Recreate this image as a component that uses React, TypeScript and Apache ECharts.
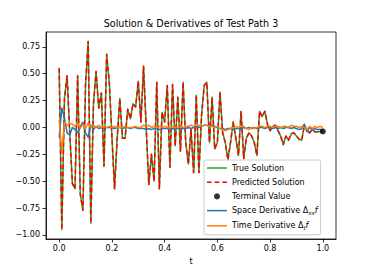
import React, { useEffect, useRef } from 'react';
import * as echarts from 'echarts';

const tValues = [
  0.0, 0.01, 0.02, 0.03, 0.04, 0.05, 0.06, 0.07, 0.08, 0.09,
  0.1, 0.11, 0.12, 0.13, 0.14, 0.15, 0.16, 0.17, 0.18, 0.19,
  0.2, 0.21, 0.22, 0.23, 0.24, 0.25, 0.26, 0.27, 0.28, 0.29,
  0.3, 0.31, 0.32, 0.33, 0.34, 0.35, 0.36, 0.37, 0.38, 0.39,
  0.4, 0.41, 0.42, 0.43, 0.44, 0.45, 0.46, 0.47, 0.48, 0.49,
  0.5, 0.51, 0.52, 0.53, 0.54, 0.55, 0.56, 0.57, 0.58, 0.59,
  0.6, 0.61, 0.62, 0.63, 0.64, 0.65, 0.66, 0.67, 0.68, 0.69,
  0.7, 0.71, 0.72, 0.73, 0.74, 0.75, 0.76, 0.77, 0.78, 0.79,
  0.8, 0.81, 0.82, 0.83, 0.84, 0.85, 0.86, 0.87, 0.88, 0.89,
  0.9, 0.91, 0.92, 0.93, 0.94, 0.95, 0.96, 0.97, 0.98, 0.99,
  1.0,
];

const trueSolution = [
  0.55, -0.95, 0.27, 0.48, -0.05, -0.52, -0.57, 0.48, -0.62, -0.77,
  0.4, 0.8, -0.89, 0.22, 0.52, 0.18, 0.32, -0.36, 0.68, 0.42,
  -0.08, -0.57, -0.1, 0.27, -0.1, -0.1, 0.17, 0.08, 0.22, 0.19,
  0.43, 0.05, 0.57, 0.0, -0.53, -0.25, -0.5, 0.42, -0.57, 0.14,
  0.05, 0.39, -0.37, 0.4, -0.17, 0.28, -0.22, 0.42, -0.14, -0.34,
  -0.02, -0.42, 0.3, -0.42, 0.11, 0.39, 0.42, -0.14, 0.28, -0.2,
  -0.14, 0.33, -0.05, -0.14, -0.3, -0.14, 0.05, -0.1, -0.26, 0.15,
  -0.29, -0.1, -0.05, -0.08, -0.14, -0.26, 0.15, 0.1, 0.15, 0.03,
  -0.03, 0.01, 0.02, -0.03, -0.08, -0.16, -0.08, -0.12, -0.06, -0.05,
  -0.08, -0.11, -0.12, 0.02, -0.03, -0.05, -0.02, -0.04, -0.04, -0.04,
  -0.037,
];

const predictedSolution = [
  0.55, -0.95, 0.27, 0.48, -0.05, -0.52, -0.57, 0.48, -0.62, -0.77,
  0.4, 0.8, -0.89, 0.22, 0.52, 0.18, 0.32, -0.36, 0.68, 0.42,
  -0.08, -0.57, -0.1, 0.27, -0.1, -0.1, 0.17, 0.08, 0.22, 0.19,
  0.43, 0.05, 0.57, 0.0, -0.53, -0.25, -0.5, 0.42, -0.57, 0.14,
  0.05, 0.39, -0.37, 0.4, -0.17, 0.28, -0.22, 0.42, -0.14, -0.34,
  -0.02, -0.42, 0.3, -0.42, 0.11, 0.39, 0.42, -0.14, 0.28, -0.2,
  -0.14, 0.33, -0.05, -0.14, -0.3, -0.14, 0.05, -0.1, -0.26, 0.15,
  -0.29, -0.1, -0.05, -0.08, -0.14, -0.26, 0.15, 0.1, 0.15, 0.03,
  -0.03, 0.01, 0.02, -0.03, -0.08, -0.16, -0.08, -0.12, -0.06, -0.05,
  -0.08, -0.11, -0.12, 0.02, -0.03, -0.05, -0.02, -0.04, -0.04, -0.04,
  -0.037,
];

const spaceDerivative = [
  -0.09, 0.18, 0.09, -0.05, -0.07, 0.0, -0.02, -0.05, 0.01, 0.05,
  -0.05, -0.09, 0.02, -0.02, 0.01, -0.01, 0.0, -0.01, 0.0, 0.0,
  0.0, -0.01, 0.0, 0.0, -0.01, 0.0, 0.0, -0.01, 0.0, 0.0,
  -0.01, -0.01, -0.01, -0.02, -0.01, -0.02, -0.01, -0.01, -0.02, -0.01,
  -0.01, -0.01, -0.02, -0.01, -0.01, -0.01, -0.01, -0.01, -0.01, 0.0,
  -0.01, 0.0, 0.01, 0.0, 0.01, 0.02, 0.02, 0.01, 0.02, 0.01,
  0.0, -0.01, -0.01, -0.02, -0.01, -0.01, -0.02, -0.01, -0.01, -0.01,
  0.0, -0.01, 0.0, -0.01, 0.0, -0.01, 0.0, 0.0, -0.01, 0.0,
  0.0, -0.01, 0.0, -0.01, 0.0, -0.01, 0.0, 0.0, -0.01, 0.0,
  -0.01, -0.02, -0.01, 0.03, -0.04, 0.0, -0.02, -0.01, -0.02, -0.02,
  -0.02,
];

const timeDerivative = [
  0.07, -0.23, 0.05, 0.02, 0.04, 0.03, 0.01, 0.04, -0.01, 0.03,
  -0.01, 0.04, 0.0, 0.02, 0.0, 0.02, 0.0, 0.01, 0.0, 0.01,
  0.0, 0.01, 0.0, 0.0, 0.0, 0.01, 0.0, 0.0, 0.0, 0.01,
  0.0, 0.0, 0.02, 0.01, 0.02, 0.0, 0.01, 0.0, 0.01, 0.0,
  0.01, 0.0, 0.0, 0.01, 0.0, 0.0, 0.01, 0.0, 0.01, 0.01,
  0.02, 0.01, 0.02, 0.02, 0.01, 0.02, 0.02, 0.01, 0.01, 0.0,
  0.01, -0.01, -0.02, -0.03, -0.02, -0.01, 0.0, 0.01, 0.0, 0.01,
  0.01, -0.01, -0.02, 0.0, -0.01, 0.0, 0.01, 0.01, 0.0, 0.01,
  0.01, 0.0, 0.01, 0.01, 0.0, 0.01, 0.01, 0.0, 0.02, 0.01,
  0.01, 0.0, 0.01, 0.0, -0.02, 0.01, -0.01, 0.01, 0.0, 0.01,
  0.0,
];

const terminalValue = [1.0, -0.037];

const xTicks = [0.0, 0.2, 0.4, 0.6, 0.8, 1.0];
const yTicks = [-1.0, -0.75, -0.5, -0.25, 0.0, 0.25, 0.5, 0.75];

const titleText = 'Solution & Derivatives of Test Path 3';
const FONT = 'DejaVu Sans';

const SOLID_ICON = 'path://M0,0H20V1.5H0Z';
const DASHED_ICON = 'path://M0,0H4.5V1.5H0Z M7.4,0H11.9V1.5H7.4Z M14.8,0H19.3V1.5H14.8Z';

const zip = (ys: number[]) => tValues.map((t, i) => [t, ys[i]]);

export default function App() {
  const ref = useRef<HTMLDivElement>(null);
  useEffect(() => {
    if (!ref.current) return;
    const chart = echarts.init(ref.current, undefined, { renderer: 'svg' });
    const minus = (s: string) => s.replace('-', '\u2212');
    const lineBase = {
      type: 'line' as const,
      symbol: 'none',
      showSymbol: false,
      smooth: false,
      z: 2,
    };
    chart.setOption({
      animation: false,
      backgroundColor: '#ffffff',
      graphic: [
        {
          type: 'text',
          x: 191,
          y: 23.5,
          style: {
            text: titleText,
            fontFamily: FONT,
            fontSize: 9.6,
            fill: '#000',
            align: 'center',
            verticalAlign: 'middle',
          },
        },
      ],
      grid: {
        left: 46,
        right: 38,
        top: 32,
        bottom: 34,
        containLabel: false,
        outerBoundsMode: 'none',
        show: true,
        borderColor: '#000',
        borderWidth: 0.8,
        backgroundColor: 'transparent',
      },
      xAxis: {
        type: 'value',
        min: -0.05,
        max: 1.05,
        splitLine: { show: false },
        axisLine: { show: true, onZero: false, lineStyle: { color: '#000', width: 0.8 } },
        axisTick: {
          show: true,
          inside: false,
          length: 3.5,
          customValues: xTicks,
          lineStyle: { color: '#000', width: 0.8 },
        },
        axisLabel: {
          customValues: xTicks,
          formatter: (v: number) => minus(v.toFixed(1)),
          fontFamily: FONT,
          fontSize: 8,
          color: '#000',
          margin: 5,
        },
        name: 't',
        nameLocation: 'middle',
        nameGap: 18,
        nameTextStyle: { fontFamily: FONT, fontSize: 8, color: '#000' },
      },
      yAxis: {
        type: 'value',
        min: -1.0375,
        max: 0.8875,
        splitLine: { show: false },
        axisLine: { show: true, onZero: false, lineStyle: { color: '#000', width: 0.8 } },
        axisTick: {
          show: true,
          inside: false,
          length: 3.5,
          customValues: yTicks,
          lineStyle: { color: '#000', width: 0.8 },
        },
        axisLabel: {
          customValues: yTicks,
          formatter: (v: number) => minus(v.toFixed(2)),
          fontFamily: FONT,
          fontSize: 8,
          color: '#000',
          margin: 6,
        },
      },
      legend: {
        orient: 'vertical',
        left: 204,
        top: 160,
        padding: [4, 3, 4, 3],
        itemWidth: 20,
        itemHeight: 6,
        itemGap: 6.2,
        selectedMode: false,
        backgroundColor: 'rgba(255,255,255,0.8)',
        borderColor: '#cccccc',
        borderWidth: 1,
        borderRadius: 2,
        data: [
          { name: 'True Solution', icon: SOLID_ICON },
          { name: 'Predicted Solution', icon: DASHED_ICON },
          { name: 'Terminal Value', icon: 'circle' },
          { name: 'Space Derivative', icon: SOLID_ICON },
          { name: 'Time Derivative', icon: SOLID_ICON },
        ],
        formatter: (name: string) => {
          if (name === 'Space Derivative') return 'Space Derivative \u0394{sub|xx}{it|f}';
          if (name === 'Time Derivative') return 'Time Derivative \u0394{sub|t}{it|f}';
          return name;
        },
        textStyle: {
          fontFamily: FONT,
          fontSize: 8,
          color: '#000',
          rich: {
            sub: {
              fontFamily: FONT,
              fontSize: 5.6,
              fontStyle: 'italic',
              color: '#000',
              verticalAlign: 'bottom',
              lineHeight: 10,
            },
            it: {
              fontFamily: FONT,
              fontSize: 8,
              fontStyle: 'italic',
              color: '#000',
            },
          },
        },
      },
      series: [
        {
          ...lineBase,
          name: 'True Solution',
          data: zip(trueSolution),
          color: '#2ca02c',
          lineStyle: { color: '#2ca02c', width: 1.5, join: 'round' },
        },
        {
          ...lineBase,
          name: 'Predicted Solution',
          data: zip(predictedSolution),
          color: '#ff0000',
          lineStyle: { color: '#ff0000', width: 1.5, type: [4.5, 2.9], join: 'round' },
        },
        {
          type: 'scatter',
          name: 'Terminal Value',
          data: [terminalValue],
          symbol: 'circle',
          symbolSize: 6,
          color: '#000',
          itemStyle: { color: '#000' },
          z: 4,
        },
        {
          ...lineBase,
          name: 'Space Derivative',
          data: zip(spaceDerivative),
          color: '#1f77b4',
          lineStyle: { color: '#1f77b4', width: 1.5, join: 'round' },
        },
        {
          ...lineBase,
          name: 'Time Derivative',
          data: zip(timeDerivative),
          color: '#ff7f0e',
          lineStyle: { color: '#ff7f0e', width: 1.5, join: 'round' },
        },
      ],
    });
    return () => chart.dispose();
  }, []);
  return (
    <div
      ref={ref}
      style={{ position: 'fixed', left: 0, top: 0, width: 374, height: 273 }}
    />
  );
}
